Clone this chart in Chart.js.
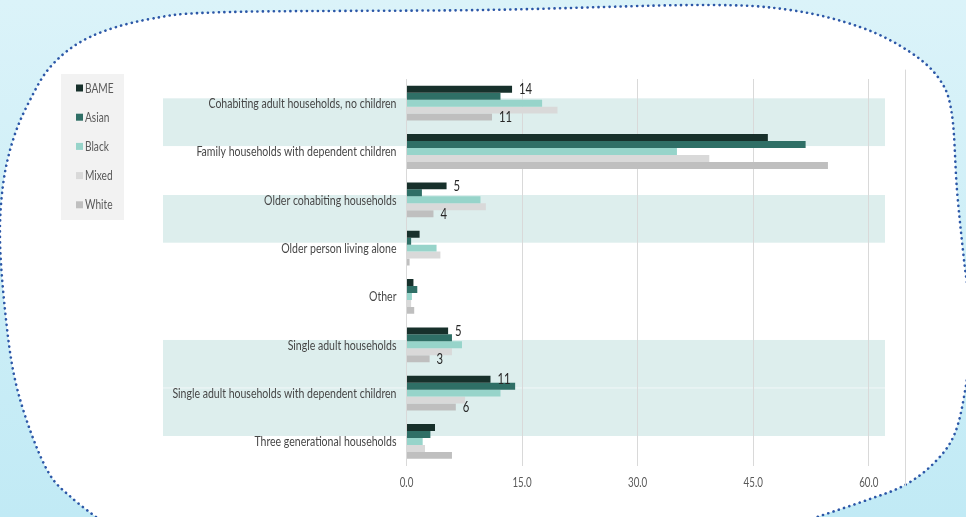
<!DOCTYPE html>
<html>
<head>
<meta charset="utf-8">
<title>Household composition by ethnic group</title>
<script src="https://cdn.jsdelivr.net/npm/chart.js@4.4.1/dist/chart.umd.min.js"></script>
<style>
  html, body { margin: 0; padding: 0; background: #ffffff; }
  #wrap { position: relative; width: 966px; height: 517px; }
</style>
</head>
<body>
<div id="wrap"><canvas id="myChart"></canvas></div>
<script>
document.addEventListener('DOMContentLoaded', function() {

    var categories = [
        'Cohabiting adult households, no children',
        'Family households with dependent children',
        'Older cohabiting households',
        'Older person living alone',
        'Other',
        'Single adult households',
        'Single adult households with dependent children',
        'Three generational households'
    ];

    // percentages per group
    var bame  = [13.7, 46.9, 5.2, 1.7, 0.9, 5.4, 10.9, 3.7];
    var asian = [12.2, 51.8, 2.0, 0.6, 1.4, 5.9, 14.1, 3.1];
    var black = [17.6, 35.1, 9.6, 3.9, 0.7, 7.2, 12.2, 2.1];
    var mixed = [19.6, 39.3, 10.3, 4.4, 0.6, 5.9, 7.6, 2.4];
    var white = [11.1, 54.7, 3.5, 0.4, 1.0, 3.0, 6.4, 5.9];

    var xTicks = [0, 15, 30, 45, 60];

    // rows shaded in the background, and rows where BAME / White get a value label
    var shadedRows = [0, 2, 5, 6];
    var labelledRows = [0, 2, 5, 6];

    var FONT = 'Lato, "Noto Sans", sans-serif';
    var SQUISH = 0.78;   // narrow look for all text

    function narrowText(ctx, text, x, y, align) {
        ctx.save();
        ctx.translate(x, y);
        ctx.scale(SQUISH, 1);
        ctx.textAlign = align;
        ctx.fillText(text, 0, 0);
        ctx.restore();
    }

    // outline of the white card (catmull-rom -> bezier)
    var blob = [
        [96,517],[72,498],[50,475],[30,430],[14,375],[5,310],[0,240],[3,185],
        [13,140],[29,102],[52,65],[90,37],[150,19],[230,12],[483,10],[700,5],
        [790,10],[860,27],[910,52],[940,80],[952,115],[957,190],[964,260],[972,330],
        [966,385],[955,433],[935,462],[905,485],[867,500],[817,517]
    ];

    function blobPath(ctx) {
        ctx.beginPath();
        ctx.moveTo(blob[0][0], blob[0][1]);
        for (var i = 0; i < blob.length - 1; i++) {
            var p0 = blob[Math.max(i - 1, 0)];
            var p1 = blob[i];
            var p2 = blob[i + 1];
            var p3 = blob[Math.min(i + 2, blob.length - 1)];
            ctx.bezierCurveTo(
                p1[0] + (p2[0] - p0[0]) / 6, p1[1] + (p2[1] - p0[1]) / 6,
                p2[0] - (p3[0] - p1[0]) / 6, p2[1] - (p3[1] - p1[1]) / 6,
                p2[0], p2[1]);
        }
    }

    var backdrop = {
        id: 'backdrop',
        beforeDraw: function(chart) {
            var ctx = chart.ctx;
            var w = chart.width, h = chart.height;
            ctx.save();
            var g = ctx.createLinearGradient(0, 0, 0, h);
            g.addColorStop(0, '#dbf3f9');
            g.addColorStop(1, '#c1eaf5');
            ctx.fillStyle = g;
            ctx.fillRect(0, 0, w, h);

            blobPath(ctx);
            ctx.lineTo(817, h + 20);
            ctx.lineTo(96, h + 20);
            ctx.closePath();
            ctx.fillStyle = '#ffffff';
            ctx.fill();

            blobPath(ctx);
            ctx.strokeStyle = '#2c57a7';
            ctx.lineWidth = 2.6;
            ctx.lineCap = 'round';
            ctx.setLineDash([0.1, 5.4]);
            ctx.stroke();
            ctx.setLineDash([]);

            // shaded rows
            var y = chart.scales.y;
            var step = y.getPixelForValue(1) - y.getPixelForValue(0);
            ctx.fillStyle = '#ddeeed';
            shadedRows.forEach(function(r) {
                var top = y.getPixelForValue(r) - 0.1 * step;
                ctx.fillRect(163, top, chart.chartArea.right - 20 - 163, step - 0.6);
            });

            // right border of plot
            ctx.strokeStyle = '#d9d9d9';
            ctx.lineWidth = 1;
            ctx.beginPath();
            ctx.moveTo(chart.chartArea.right + 0.5, chart.chartArea.top - 9);
            ctx.lineTo(chart.chartArea.right + 0.5, chart.chartArea.bottom + 20);
            ctx.stroke();

            // legend panel
            ctx.fillStyle = '#f2f2f2';
            ctx.fillRect(61, 74, 63, 146);
            ctx.restore();
        },
        afterDraw: function(chart) {
            var ctx = chart.ctx;
            var xs = chart.scales.x, ys = chart.scales.y;
            ctx.save();
            ctx.textBaseline = 'middle';
            ctx.fillStyle = '#474747';

            // category labels
            ctx.font = '13.5px ' + FONT;
            ys.ticks.forEach(function(t, i) {
                narrowText(ctx, ys.getLabelForValue(t.value), ys.right - 10, ys.getPixelForTick(i) + 0.5, 'right');
            });

            // value axis labels
            ctx.fillStyle = '#595959';
            ctx.font = '12.5px ' + FONT;
            xs.ticks.forEach(function(t, i) {
                narrowText(ctx, t.value.toFixed(1), xs.getPixelForTick(i), chart.chartArea.bottom + 17.5, 'center');
            });

            // legend
            ctx.font = '13px ' + FONT;
            chart.data.datasets.forEach(function(ds, i) {
                var cy = 88 + 29.2 * i;
                ctx.fillStyle = ds.backgroundColor;
                ctx.fillRect(76, cy - 3.5, 7, 7);
                ctx.fillStyle = '#595959';
                narrowText(ctx, ds.label, 85, cy + 0.5, 'left');
            });
            ctx.restore();
        }
    };

    var valueLabels = {
        id: 'valueLabels',
        afterDatasetsDraw: function(chart) {
            var ctx = chart.ctx;
            ctx.save();
            ctx.font = '14.5px ' + FONT;
            ctx.fillStyle = '#262626';
            ctx.textBaseline = 'middle';
            [0, 4].forEach(function(di) {
                var meta = chart.getDatasetMeta(di);
                var data = chart.data.datasets[di].data;
                labelledRows.forEach(function(r) {
                    var bar = meta.data[r];
                    narrowText(ctx, String(Math.round(data[r])), bar.x + 7, bar.y + 0.5, 'left');
                });
            });
            ctx.restore();
        }
    };

    var ctx = document.getElementById('myChart');

    var graphique = new Chart(ctx.getContext('2d'), {
        type: 'bar',
        data: {
            labels: categories,
            datasets: [
                { label: 'BAME',  data: bame,  backgroundColor: '#17302b' },
                { label: 'Asian', data: asian, backgroundColor: '#2f6f66' },
                { label: 'Black', data: black, backgroundColor: '#97d4ca' },
                { label: 'Mixed', data: mixed, backgroundColor: '#d9d9d9' },
                { label: 'White', data: white, backgroundColor: '#bfbfbf' }
            ]
        },
        options: {
            indexAxis: 'y',
            responsive: true,
            maintainAspectRatio: false,
            animation: false,
            layout: { padding: { top: 79, right: 61, bottom: 0, left: 0 } },
            datasets: {
                bar: { categoryPercentage: 0.72, barPercentage: 1.0, borderWidth: 0 }
            },
            plugins: {
                legend: { display: false },
                tooltip: { enabled: false }
            },
            scales: {
                x: {
                    min: 0,
                    max: 64.7,
                    afterFit: function(scale) { scale.height = 51.4; },
                    afterBuildTicks: function(scale) {
                        scale.ticks = xTicks.map(function(v) { return { value: v }; });
                    },
                    grid: { color: '#d9d9d9', drawTicks: false },
                    border: { display: false },
                    ticks: { display: false }
                },
                y: {
                    afterFit: function(scale) { scale.width = 406.5; },
                    grid: { display: false, drawTicks: false },
                    border: { display: false },
                    ticks: { display: false }
                }
            }
        },
        plugins: [backdrop, valueLabels]
    });

});
</script>
</body>
</html>
